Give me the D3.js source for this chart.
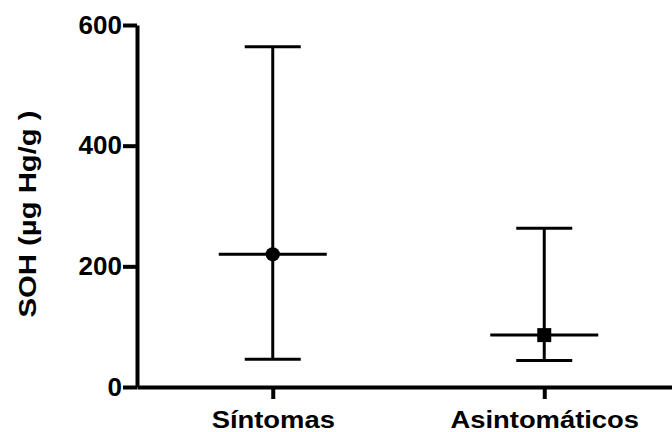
<html>
<script src="https://d3js.org/d3.v7.min.js"></script>
<style>
  body { margin: 0; background: #fff; }
  text { font-family: "Liberation Sans", Arial, sans-serif; font-weight: bold; }
</style>
<body>
<svg class="chart" width="672" height="432"></svg>
<script>
// values
var groups = ["Síntomas", "Asintomáticos"];
var means = [220, 86];
var lows = [46, 44];
var highs = [564, 263];
var markers = ["circle", "square"];
var yTicks = [0, 200, 400, 600];

var svg = d3.select(".chart");

var y = d3.scaleLinear().domain([0, 600]).range([387, 25]);
var x = d3.scalePoint().domain(groups).range([137, 680]).padding(0.5);

// the original lettering is a bit wider than Arial, stretch it
function stretch(sel, k) {
  sel.each(function() {
    var w = this.getComputedTextLength();
    d3.select(this).attr("textLength", w * k).attr("lengthAdjust", "spacingAndGlyphs");
  });
}

// y axis
var yAxis = svg.append("g")
  .attr("transform", "translate(137,0)")
  .call(d3.axisLeft(y).tickValues(yTicks).tickSize(14).tickSizeOuter(0).tickPadding(1));
yAxis.select(".domain").attr("stroke", "#000").attr("stroke-width", 4);
yAxis.selectAll(".tick line").attr("stroke", "#000").attr("stroke-width", 4);
yAxis.selectAll(".tick text").attr("font-size", 26).attr("fill", "#000")
  .style("font-family", "'Liberation Sans', Arial, sans-serif").style("font-weight", "bold");

// x axis
var xAxis = svg.append("g")
  .attr("transform", "translate(0,387)")
  .call(d3.axisBottom(x).tickSize(12).tickSizeOuter(0).tickPadding(13));
xAxis.select(".domain").attr("stroke", "#000").attr("stroke-width", 4);
xAxis.selectAll(".tick line").attr("stroke", "#000").attr("stroke-width", 4);
xAxis.selectAll(".tick text").attr("font-size", 23).attr("fill", "#000")
  .style("font-family", "'Liberation Sans', Arial, sans-serif").style("font-weight", "bold");
stretch(xAxis.selectAll(".tick text"), 1.19);

// y label
var yLab = svg.append("text")
  .attr("transform", "translate(36,214) rotate(-90)")
  .attr("text-anchor", "middle")
  .attr("font-size", 24)
  .text("SOH (µg Hg/g )");
stretch(yLab, 1.22);

// error bars
var bars = svg.append("g").selectAll("g").data(groups).enter().append("g");

bars.append("line")
  .attr("x1", function(d) { return x(d); })
  .attr("x2", function(d) { return x(d); })
  .attr("y1", function(d, i) { return y(lows[i]); })
  .attr("y2", function(d, i) { return y(highs[i]); })
  .attr("stroke", "#000").attr("stroke-width", 3);

// caps
[lows, highs].forEach(function(arr) {
  bars.append("line")
    .attr("x1", function(d) { return x(d) - 28; })
    .attr("x2", function(d) { return x(d) + 28; })
    .attr("y1", function(d, i) { return y(arr[i]); })
    .attr("y2", function(d, i) { return y(arr[i]); })
    .attr("stroke", "#000").attr("stroke-width", 3);
});

// mean lines
bars.append("line")
  .attr("x1", function(d) { return x(d) - 54; })
  .attr("x2", function(d) { return x(d) + 54; })
  .attr("y1", function(d, i) { return y(means[i]); })
  .attr("y2", function(d, i) { return y(means[i]); })
  .attr("stroke", "#000").attr("stroke-width", 3);

// markers
bars.append("path")
  .attr("transform", function(d, i) { return "translate(" + x(d) + "," + y(means[i]) + ")"; })
  .attr("d", function(d, i) {
    var t = markers[i] == "circle" ? d3.symbolCircle : d3.symbolSquare;
    return d3.symbol().type(t).size(markers[i] == "circle" ? 160 : 196)();
  })
  .attr("fill", "#000");
</script>
</body>
</html>
